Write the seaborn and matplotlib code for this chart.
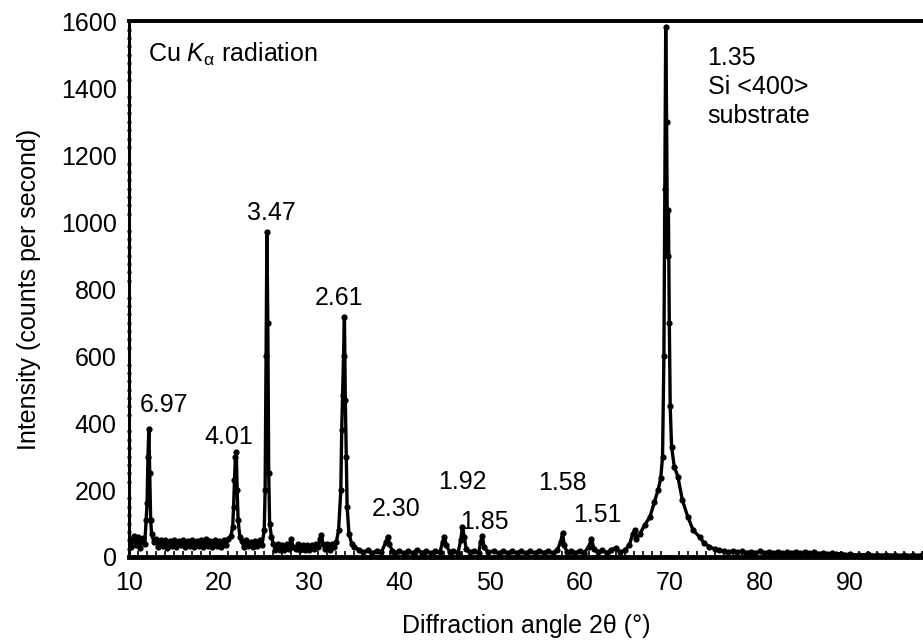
import numpy as np
import pandas as pd
import matplotlib
matplotlib.use("Agg")
import matplotlib.pyplot as plt
from matplotlib.ticker import MultipleLocator
import seaborn as sns

# ---------------- data ----------------
# 10-35 deg region, 0.25 deg step with visible noise band
two_theta_a = [10.0, 10.25, 10.5, 10.75, 11.0, 11.25, 11.5, 11.75,
               11.9, 12.0, 12.1, 12.2, 12.3, 12.4, 12.5, 12.75,
               13.0, 13.25, 13.5, 13.75, 14.0, 14.25, 14.5, 14.75,
               15.0, 15.25, 15.5, 15.75, 16.0, 16.25, 16.5, 16.75,
               17.0, 17.25, 17.5, 17.75, 18.0, 18.25, 18.5, 18.75,
               19.0, 19.25, 19.5, 19.75, 20.0, 20.25, 20.5, 20.75,
               21.0, 21.3, 21.5, 21.6, 21.7, 21.8, 21.9, 22.0,
               22.1, 22.3, 22.5, 22.75, 23.0, 23.25, 23.5, 23.75,
               24.0, 24.25, 24.5, 24.75, 25.0, 25.1, 25.2, 25.3,
               25.4, 25.5, 25.6, 25.8, 26.0, 26.25, 26.5, 26.75,
               27.0, 27.25, 27.5, 27.75, 28.0, 28.2, 28.5, 28.75,
               29.0, 29.25, 29.5, 29.75, 30.0, 30.25, 30.5, 30.75,
               31.0, 31.2, 31.35, 31.5, 31.75, 32.0, 32.25, 32.5,
               32.75, 33.0, 33.25, 33.5, 33.6, 33.7, 33.8, 33.9,
               34.0, 34.1, 34.2, 34.4, 34.7, 35.0]
intensity_a = [55, 30, 62, 35, 60, 28, 58, 40,
               110, 160, 300, 382, 250, 110, 70, 45,
               55, 30, 52, 32, 50, 28, 48, 33,
               52, 30, 47, 35, 50, 30, 48, 32,
               50, 29, 47, 34, 52, 30, 55, 33,
               48, 30, 50, 32, 47, 31, 52, 35,
               55, 62, 90, 150, 230, 300, 313, 200,
               110, 60, 48, 30, 50, 32, 46, 30,
               48, 33, 50, 35, 80, 200, 600, 970,
               700, 250, 100, 60, 40, 22, 38, 20,
               35, 22, 40, 25, 54, 30, 24, 38,
               20, 35, 22, 37, 20, 36, 24, 40,
               30, 55, 66, 40, 25, 38, 22, 40,
               30, 45, 80, 200, 380, 484, 600, 716,
               470, 300, 150, 70, 40, 30]

# 35-99 deg region
two_theta_b = [35.5, 36.0, 36.5, 37.0, 37.5, 38.0, 38.5, 38.7, 38.9, 39.2,
               39.5, 40.0, 40.5, 41.0, 41.5, 42.0, 42.5, 43.0, 43.5, 44.0,
               44.5, 44.8, 45.0, 45.2, 45.6, 46.0, 46.5, 46.8, 47.0, 47.2,
               47.4, 47.8, 48.3, 48.8, 49.0, 49.2, 49.4, 49.8, 50.5, 51.0,
               51.5, 52.0, 52.5, 53.0, 53.5, 54.0, 54.5, 55.0, 55.5, 56.0,
               56.5, 57.0, 57.5, 57.9, 58.1, 58.3, 58.6, 59.0, 59.5, 60.0,
               60.5, 61.0, 61.3, 61.6, 62.0, 62.5, 63.0, 63.5, 64.0, 64.5,
               65.0, 65.5, 65.9, 66.1, 66.3, 66.7, 67.2, 67.8, 68.3, 68.7,
               69.0, 69.2, 69.35, 69.45, 69.55, 69.65, 69.75, 69.85, 69.95, 70.05,
               70.2, 70.5, 70.9, 71.4, 72.0, 72.6, 73.3, 73.8, 74.4, 75.0,
               75.5, 76.0, 76.5, 77.0, 77.5, 78.0,
               78.5, 79.0, 79.5, 80.0, 80.5, 81.0, 81.5, 82.0, 82.5, 83.0,
               83.5, 84.0, 84.5, 85.0, 85.5, 86.0, 86.5, 87.0, 87.5, 88.0,
               88.5, 89.0, 89.5, 90.0, 91.0, 92.0, 93.0, 94.0, 95.0, 96.0,
               97.0, 98.0, 99.0]
intensity_b = [22, 14, 20, 12, 19, 14, 45, 60, 40, 18,
               12, 18, 11, 17, 12, 22, 13, 17, 11, 18,
               14, 45, 60, 35, 14, 19, 12, 50, 90, 60,
               25, 15, 19, 12, 45, 63, 30, 15, 18, 11,
               17, 12, 18, 13, 17, 11, 18, 12, 19, 13,
               18, 12, 20, 45, 72, 35, 14, 18, 12, 19,
               13, 30, 54, 25, 15, 20, 13, 22, 27, 14,
               20, 35, 70, 80, 55, 70, 95, 120, 165, 200,
               235, 300, 600, 1100, 1582, 1300, 900, 1036, 700, 450,
               330, 270, 240, 170, 120, 80, 60, 42, 30, 24,
               20, 18, 15, 18, 14, 17,
               13, 16, 12, 17, 13, 15, 12, 16, 11, 14,
               12, 16, 11, 15, 12, 14, 10, 13, 9, 12,
               8, 10, 7, 8, 6, 8, 5, 7, 5, 6,
               5, 6, 5]

two_theta = two_theta_a + two_theta_b
intensity = intensity_a + intensity_b

peak_labels = ["6.97", "4.01", "3.47", "2.61", "2.30", "1.92", "1.85", "1.58", "1.51"]
label_x = [13.9, 21.1, 25.8, 33.3, 39.6, 47.0, 49.4, 58.1, 62.0]
label_y = [454, 358, 1027, 773, 143, 224, 104, 221, 125]

x_ticks = [10, 20, 30, 40, 50, 60, 70, 80, 90]
y_ticks = [0, 200, 400, 600, 800, 1000, 1200, 1400, 1600]

df = pd.DataFrame({"two_theta": two_theta, "intensity": intensity})

# ---------------- plotting ----------------
sns.set_theme(style="white")
plt.rcParams["font.family"] = ["Liberation Sans", "DejaVu Sans"]
plt.rcParams["mathtext.fontset"] = "custom"
plt.rcParams["mathtext.rm"] = "Liberation Sans"
plt.rcParams["mathtext.it"] = "Liberation Sans:italic"
plt.rcParams["text.color"] = "black"
plt.rcParams["axes.labelcolor"] = "black"
plt.rcParams["xtick.color"] = "black"
plt.rcParams["ytick.color"] = "black"

FS = 18

fig = plt.figure(figsize=(9.23, 6.42), dpi=100)
ax = fig.add_axes([0.1398, 0.1324, 0.8602, 0.8343])

sns.lineplot(data=df, x="two_theta", y="intensity", ax=ax, color="black",
             linewidth=2.4, marker="o", markersize=4.5, markeredgewidth=0,
             sort=False)

ax.set_xlim(10, 98.1)
ax.set_ylim(0, 1600)
ax.set_xticks(x_ticks)
ax.set_yticks(y_ticks)
ax.xaxis.set_minor_locator(MultipleLocator(1))
ax.yaxis.set_minor_locator(MultipleLocator(25))

ax.tick_params(axis="x", which="major", direction="in", length=7, width=1.5,
               labelsize=FS, pad=10, colors="black")
ax.tick_params(axis="x", which="minor", direction="in", length=4, width=1.2, bottom=True)
ax.tick_params(axis="y", which="major", direction="inout", length=8, width=1.5,
               labelsize=FS, pad=5, colors="black")
ax.tick_params(axis="y", which="minor", direction="inout", length=3, width=1.8, left=True)

for side in ["left", "top", "bottom"]:
    ax.spines[side].set_visible(True)
    ax.spines[side].set_color("black")
ax.spines["left"].set_linewidth(2.2)
ax.spines["top"].set_linewidth(2.8)
ax.spines["bottom"].set_linewidth(3.5)
ax.spines["right"].set_visible(False)

ax.set_xlabel("Diffraction angle 2θ (°)", fontsize=FS, labelpad=14, color="black")
ax.set_ylabel("Intensity (counts per second)", fontsize=FS, labelpad=14, color="black")

ax.text(12.1, 1502, r"Cu $\mathit{K}_{\mathrm{α}}$ radiation", fontsize=FS,
        ha="left", va="center")
for lab, lx, ly in zip(peak_labels, label_x, label_y):
    ax.text(lx, ly, lab, fontsize=FS, ha="center", va="center")
ax.text(74.2, 1525, "1.35\nSi <400>\nsubstrate", fontsize=FS, ha="left", va="top",
        linespacing=1.25)

fig.savefig("out.png", dpi=100)
